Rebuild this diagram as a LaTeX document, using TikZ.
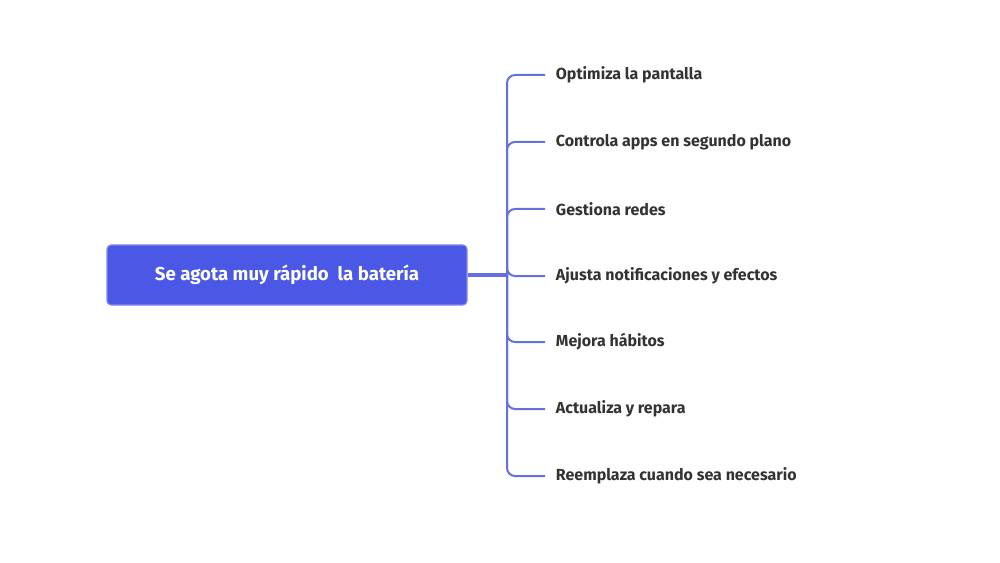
\documentclass[tikz,border=0pt]{standalone}
\usepackage{fontspec}
\setmainfont{Fira Sans}
\usetikzlibrary{positioning}
\definecolor{rootblue}{HTML}{4B58E6}
\definecolor{linkblue}{HTML}{6670E0}
\definecolor{labelgray}{HTML}{333333}
\tikzset{
  rootbox/.style={fill=rootblue, draw=rootblue!70!white, line width=0.8pt, rounded corners=3pt,
    minimum width=270pt, minimum height=45pt, text=white, font=\bfseries\fontsize{14}{16}\selectfont},
  leaf/.style={anchor=west, inner xsep=8pt, text=labelgray, font=\bfseries\fontsize{12}{14}\selectfont},
  branch/.style={draw=linkblue, line width=1.5pt, rounded corners=6pt}
}
\begin{document}
\begin{tikzpicture}[x=0.75pt, y=-0.75pt]
\useasboundingbox (0,0) rectangle (1000,563);
% root
\node[rootbox] (root) at (287,275) {Se agota muy rápido\ \ la batería};
\coordinate (hub) at (507,275);
% leaves
\node[leaf] (b1) at (545,75)  {Optimiza la pantalla};
\node[leaf] (b2) at (545,142) {Controla apps en segundo plano};
\node[leaf] (b3) at (545,209) {Gestiona redes};
\node[leaf] (b4) at (545,276) {Ajusta notificaciones y efectos};
\node[leaf] (b5) at (545,342) {Mejora hábitos};
\node[leaf] (b6) at (545,409) {Actualiza y repara};
\node[leaf] (b7) at (545,476) {Reemplaza cuando sea necesario};
% connectors
\draw[branch, line width=2.5pt] (root.east) -- (hub);
\foreach \b in {b1,b2,b3,b4,b5,b6,b7}
  \draw[branch] (hub) |- (\b.west);
\end{tikzpicture}
\end{document}
